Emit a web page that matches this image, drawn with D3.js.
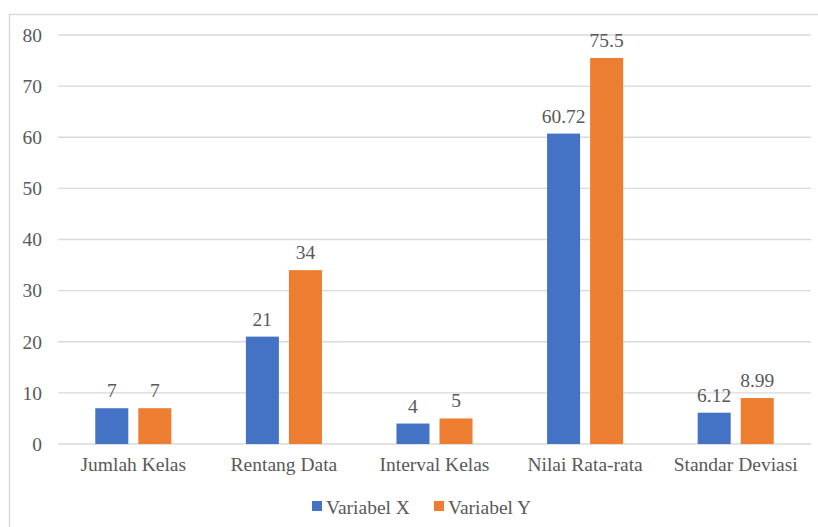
<!DOCTYPE html>
<html>
<head>
<meta charset="utf-8">
<script src="https://cdn.jsdelivr.net/npm/d3@7/dist/d3.min.js"></script>
<style>
  html, body { margin: 0; padding: 0; background: #fff; }
  svg { display: block; }
  text { font-family: "Liberation Serif", "Times New Roman", serif; fill: #595959; }
</style>
</head>
<body>
<svg id="chart" width="818" height="527"></svg>
<script>
// Statistik deskriptif untuk dua variabel
const categories = ["Jumlah Kelas", "Rentang Data", "Interval Kelas", "Nilai Rata-rata", "Standar Deviasi"];
const seriesNames = ["Variabel X", "Variabel Y"];
const variabelX = [7, 21, 4, 60.72, 6.12];
const variabelY = [7, 34, 5, 75.5, 8.99];
const yTicks = [0, 10, 20, 30, 40, 50, 60, 70, 80];
const colors = ["#4472c4", "#ed7d31"];

const svg = d3.select("#chart");
const W = 818, H = 527;
const margin = { left: 58, right: 7, top: 35, bottom: 83 };
const plotW = W - margin.left - margin.right;
const plotH = H - margin.top - margin.bottom;

// outer frame of the chart area
svg.append("rect")
  .attr("x", 9.5).attr("y", 14.5)
  .attr("width", 830).attr("height", 530)
  .attr("fill", "none").attr("stroke", "#d9d9d9").attr("stroke-width", 1.5);

const g = svg.append("g").attr("transform", `translate(${margin.left},${margin.top})`);

const x0 = d3.scaleBand().domain(categories).range([0, plotW]).padding(0);
const bw = x0.bandwidth();
const x1 = d3.scaleBand().domain(seriesNames)
  .range([bw * 0.2475, bw * 0.7525]).paddingInner(0.233).paddingOuter(0);
const y = d3.scaleLinear().domain([0, 80]).range([plotH, 0]);

// gridlines
g.append("g").selectAll("line").data(yTicks).join("line")
  .attr("x1", 0).attr("x2", plotW)
  .attr("y1", d => y(d)).attr("y2", d => y(d))
  .attr("stroke", "#d9d9d9").attr("stroke-width", 1.3);

// y axis labels
const yAxis = g.append("g").call(d3.axisLeft(y).tickValues(yTicks).tickSize(0).tickPadding(16));
yAxis.select(".domain").remove();
yAxis.selectAll("text").style("font-size", "19.5px")
  .style("font-family", '"Liberation Serif", serif').attr("fill", "#595959");

// x axis labels
const xAxis = g.append("g").attr("transform", `translate(0,${plotH})`)
  .call(d3.axisBottom(x0).tickSize(0).tickPadding(13));
xAxis.select(".domain").remove();
xAxis.selectAll("text").style("font-size", "19.5px")
  .style("font-family", '"Liberation Serif", serif').attr("fill", "#595959");

const rows = categories.map((c, i) => ({ cat: c, vals: [variabelX[i], variabelY[i]] }));

const groups = g.append("g").selectAll("g").data(rows).join("g")
  .attr("transform", d => `translate(${x0(d.cat)},0)`);

groups.selectAll("rect").data(d => d.vals.map((v, k) => ({ v, k }))).join("rect")
  .attr("x", d => x1(seriesNames[d.k]))
  .attr("y", d => y(d.v))
  .attr("width", x1.bandwidth())
  .attr("height", d => y(0) - y(d.v))
  .attr("fill", d => colors[d.k]);

groups.selectAll("text.val").data(d => d.vals.map((v, k) => ({ v, k }))).join("text")
  .attr("class", "val")
  .attr("x", d => x1(seriesNames[d.k]) + x1.bandwidth() / 2)
  .attr("y", d => y(d.v) - 11)
  .attr("text-anchor", "middle")
  .style("font-size", "19.5px")
  .text(d => d.v);

// legend
const legend = svg.append("g").attr("transform", "translate(312,507)");
const legX = [0, 122];
seriesNames.forEach((s, k) => {
  const lg = legend.append("g").attr("transform", `translate(${legX[k]},0)`);
  lg.append("rect").attr("x", 0).attr("y", -6).attr("width", 10).attr("height", 10).attr("fill", colors[k]);
  lg.append("text").attr("x", 14).attr("y", 0).attr("dy", "0.35em")
    .style("font-size", "19.5px").text(s);
});
</script>
</body>
</html>
